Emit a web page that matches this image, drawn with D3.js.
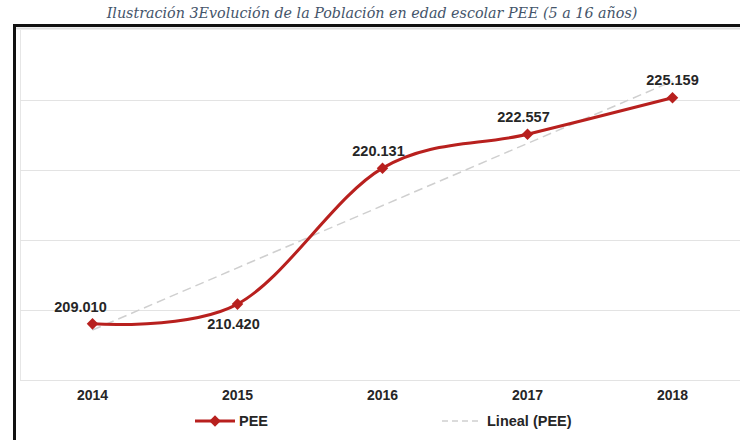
<!DOCTYPE html>
<html>
<head>
<meta charset="utf-8">
<script src="https://cdn.jsdelivr.net/npm/d3@7"></script>
<style>
  body { margin: 0; background: #fff; }
  .lbl { font-family: "Liberation Sans", Arial, sans-serif; font-weight: bold; fill: #262626; }
</style>
</head>
<body>
<div class="chart"></div>
<script>
var svgWidth = 740;
var svgHeight = 440;

// data
var years = ["2014", "2015", "2016", "2017", "2018"];
var pee = [209.010, 210.420, 220.131, 222.557, 225.159];
var peeLabels = ["209.010", "210.420", "220.131", "222.557", "225.159"];
var yTicks = [205, 210, 215, 220, 225, 230];

var svg = d3.select(".chart")
  .append("svg")
  .attr("width", svgWidth)
  .attr("height", svgHeight);

// title
svg.append("text")
  .attr("x", 372)
  .attr("y", 18)
  .attr("text-anchor", "middle")
  .style("font-family", "'DejaVu Serif', 'Liberation Serif', serif")
  .style("font-style", "italic")
  .style("font-size", "14.3px")
  .style("fill", "#44546a")
  .text("Ilustración 3Evolución de la Población en edad escolar PEE (5 a 16 años)");

// outer frame
svg.append("rect")
  .attr("x", 14.5)
  .attr("y", 25.5)
  .attr("width", 760)
  .attr("height", 440)
  .attr("fill", "none")
  .attr("stroke", "#111")
  .attr("stroke-width", 3);

svg.append("line")
  .attr("x1", 16).attr("x2", 740)
  .attr("y1", 28.5).attr("y2", 28.5)
  .attr("stroke", "#ddd")
  .attr("stroke-width", 2);

var x = d3.scaleBand()
  .domain(years)
  .range([20, 745]);

var y = d3.scaleLinear()
  .domain([205, 230])
  .range([380, 30]);

var cx = function(i) { return x(years[i]) + x.bandwidth() / 2; };

// plot area left edge
svg.append("line")
  .attr("x1", 20.5).attr("x2", 20.5)
  .attr("y1", 30).attr("y2", 380)
  .attr("stroke", "#e6e6e6");

// gridlines
svg.append("g")
  .selectAll("line")
  .data(yTicks.slice(0, 5))
  .enter()
  .append("line")
  .attr("x1", 20)
  .attr("x2", 740)
  .attr("y1", d => Math.round(y(d)) + 0.5)
  .attr("y2", d => Math.round(y(d)) + 0.5)
  .attr("stroke", "#e3e3e3")
  .attr("stroke-width", 1.2);

// x axis labels
var bottomAxis = d3.axisBottom(x).tickSize(0).tickPadding(0);
var xg = svg.append("g")
  .attr("transform", "translate(0, 390)")
  .call(bottomAxis);
xg.select(".domain").remove();
xg.selectAll("text")
  .attr("class", "lbl")
  .style("font-size", "14px")
  .attr("dy", "0.71em");

// linear trend (least squares, as Excel "Lineal")
var n = pee.length;
var xm = (n + 1) / 2;
var ym = d3.mean(pee);
var sxy = d3.sum(pee, (v, i) => (i + 1 - xm) * (v - ym));
var sxx = d3.sum(pee, (v, i) => (i + 1 - xm) * (i + 1 - xm));
var slope = sxy / sxx;
var trend = pee.map((v, i) => ym + slope * (i + 1 - xm));

svg.append("path")
  .datum([trend[0], trend[n - 1]])
  .attr("d", d3.line().x((d, i) => cx(i * (n - 1))).y(d => y(d)))
  .attr("fill", "none")
  .attr("stroke", "#cfcfcf")
  .attr("stroke-width", 1.5)
  .attr("stroke-dasharray", "9,5");

// smoothed series
var smooth = d3.line()
  .x((d, i) => cx(i))
  .y(d => y(d))
  .curve(d3.curveCardinal.tension(0));

var red = "#b8201e";

svg.append("path")
  .datum(pee)
  .attr("d", smooth)
  .attr("fill", "none")
  .attr("stroke", red)
  .attr("stroke-width", 3);

var diamond = d3.symbol().type(d3.symbolDiamond2).size(85);

svg.append("g")
  .selectAll("path")
  .data(pee)
  .enter()
  .append("path")
  .attr("d", diamond)
  .attr("transform", (d, i) => `translate(${cx(i)}, ${y(d)})`)
  .attr("fill", red);

// data labels
var labelDx = [-12, -4, -4, -4, 0];
var labelDy = [-12, 25, -12, -12, -13];
svg.append("g")
  .selectAll("text")
  .data(pee)
  .enter()
  .append("text")
  .attr("class", "lbl")
  .attr("x", (d, i) => cx(i) + labelDx[i])
  .attr("y", (d, i) => y(d) + labelDy[i])
  .attr("text-anchor", "middle")
  .style("font-size", "14.5px")
  .text((d, i) => peeLabels[i]);

// legend
var lg = svg.append("g").attr("transform", "translate(0, 421)");
lg.append("line")
  .attr("x1", 195).attr("x2", 235)
  .attr("y1", 0).attr("y2", 0)
  .attr("stroke", red)
  .attr("stroke-width", 3);
lg.append("path")
  .attr("d", diamond)
  .attr("transform", "translate(215, 0)")
  .attr("fill", red);
lg.append("text")
  .attr("class", "lbl")
  .attr("x", 239)
  .attr("y", 5)
  .style("font-size", "14.5px")
  .text("PEE");

lg.append("line")
  .attr("x1", 442).attr("x2", 482)
  .attr("y1", 0).attr("y2", 0)
  .attr("stroke", "#cfcfcf")
  .attr("stroke-width", 1.5)
  .attr("stroke-dasharray", "6,4");
lg.append("text")
  .attr("class", "lbl")
  .attr("x", 487)
  .attr("y", 5)
  .style("font-size", "14.5px")
  .text("Lineal (PEE)");
</script>
</body>
</html>
